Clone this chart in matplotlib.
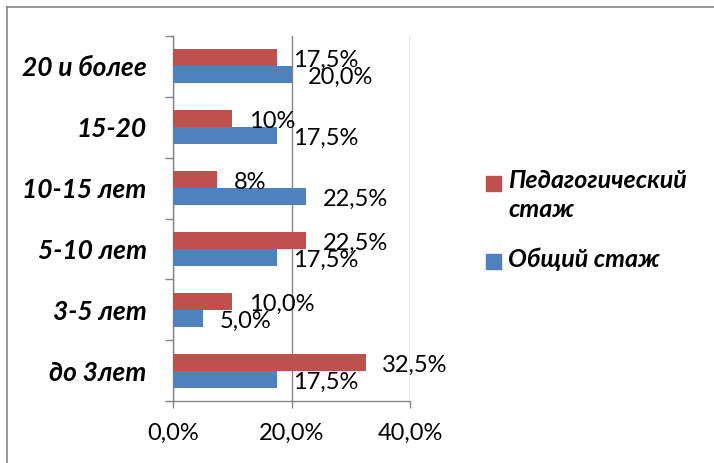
import matplotlib
matplotlib.use("Agg")
import matplotlib.pyplot as plt
from matplotlib.patches import Rectangle
from matplotlib.lines import Line2D
import numpy as np

plt.rcParams['font.family'] = ['Lato', 'Open Sans', 'DejaVu Sans']

# experience groups, bottom to top
categories = ["до 3лет", "3-5 лет", "5-10 лет", "10-15 лет", "15-20", "20 и более"]
ped_values = [32.5, 10.0, 22.5, 7.5, 10.0, 17.5]
ped_labels = ["32,5%", "10,0%", "22,5%", "8%", "10%", "17,5%"]
total_values = [17.5, 5.0, 17.5, 22.5, 17.5, 20.0]
total_labels = ["17,5%", "5,0%", "17,5%", "22,5%", "17,5%", "20,0%"]
series_names = ["Педагогический\nстаж", "Общий стаж"]
xticks = [0, 20, 40]
xtick_labels = ["0,0%", "20,0%", "40,0%"]

RED = "#C0504D"
BLUE = "#4F81BD"
GRID = "#868686"

W, H = 714, 463
fig = plt.figure(figsize=(W / 100, H / 100), dpi=100)
ax = fig.add_axes([173 / W, 1 - 401 / H, (410 - 173) / W, (401 - 36) / H])

y = np.arange(len(categories))
bh = 0.28
ax.barh(y + bh / 2, ped_values, height=bh, color=RED, zorder=3)
ax.barh(y - bh / 2, total_values, height=bh, color=BLUE, zorder=3)

# value labels just past the bar ends
for yi, v, s in zip(y, ped_values, ped_labels):
    ax.annotate(s, (v, yi + bh / 2), xytext=(12, -2), textcoords="offset points",
                ha="left", va="center", fontsize=17, zorder=4)
for yi, v, s in zip(y, total_values, total_labels):
    ax.annotate(s, (v, yi - bh / 2), xytext=(12, -2), textcoords="offset points",
                ha="left", va="center", fontsize=17, zorder=4)

ax.set_xlim(0, 40)
ax.set_ylim(-0.5, len(categories) - 0.5)
ax.set_xticks(xticks)
ax.set_xticklabels(xtick_labels, fontsize=17)
ax.tick_params(axis="x", direction="out", length=5, width=1, color=GRID, pad=11)

ax.set_yticks(np.arange(-0.5, len(categories), 1.0))
ax.set_yticklabels([])
ax.tick_params(axis="y", which="major", direction="out", length=6, width=1, color=GRID)
ax.set_yticks(y, minor=True)
ax.set_yticklabels(categories, minor=True, fontsize=19, fontweight="bold", fontstyle="italic")
ax.tick_params(axis="y", which="minor", length=0, pad=19)

ax.grid(axis="x", color=GRID, linewidth=1, zorder=0)
for side in ("top", "right"):
    ax.spines[side].set_visible(False)
for side in ("left", "bottom"):
    ax.spines[side].set_color(GRID)
    ax.spines[side].set_linewidth(1)

# legend drawn by hand so the marker sits on the first text line
legend_rows = [(RED, series_names[0], 183), (BLUE, series_names[1], 261)]
for color, name, yc in legend_rows:
    fig.patches.append(Rectangle((486 / W, 1 - (yc + 7.5) / H), 15 / W, 15 / H,
                                 transform=fig.transFigure, color=color))
    fig.text(508 / W, 1 - (yc - 14) / H, name, ha="left", va="top", fontsize=18,
             fontweight="bold", fontstyle="italic", linespacing=1.3)

# chart area border
fig.add_artist(Line2D([7 / W, 1.0], [1 - 7 / H, 1 - 7 / H], color=GRID, linewidth=1.2))
fig.add_artist(Line2D([7 / W, 7 / W], [0.0, 1 - 7 / H], color=GRID, linewidth=1.2))

fig.savefig("out.png", dpi=100)
